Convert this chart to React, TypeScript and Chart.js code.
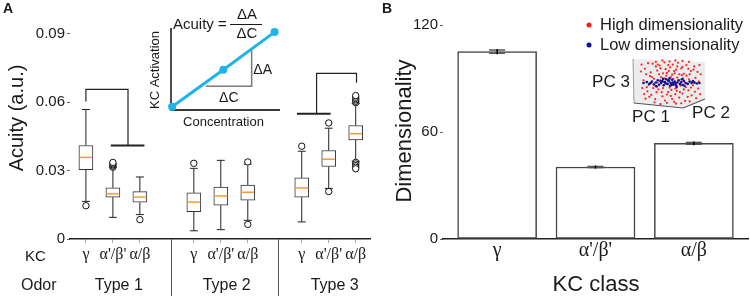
import React, { useEffect, useRef } from 'react';
import { Chart, registerables } from 'chart.js';

Chart.register(...registerables);

const SANS = '"Liberation Sans", Arial, sans-serif';
const SERIF = '"Liberation Serif", "Times New Roman", serif';
const INK = '#1a1a1a';

// ---------- Panel A: odor acuity per KC class ----------
const kcClasses = ['γ', "α'/β'", 'α/β'];
const odorTypes = ['Type 1', 'Type 2', 'Type 3'];
const boxPositions = [1, 2, 3, 5, 6, 7, 9, 10, 11];
const groupCenters = [2, 6, 10];
const groupDividers = [4.16, 8.12];
const whiskerLow = [0.0165, 0.0095, 0.0107, 0.0036, 0.0041, 0.0082, 0.0075, 0.0222, 0.0341];
const quartile1 = [0.0304, 0.0184, 0.0161, 0.012, 0.0148, 0.017, 0.0183, 0.0318, 0.0435];
const medians = [0.0358, 0.0198, 0.0184, 0.0162, 0.0189, 0.0205, 0.0224, 0.035, 0.0462];
const quartile3 = [0.041, 0.0224, 0.0208, 0.0202, 0.0228, 0.0237, 0.0268, 0.0388, 0.0498];
const whiskerHigh = [0.0568, 0.0313, 0.0272, 0.031, 0.0345, 0.0328, 0.0385, 0.0486, 0.0594];
const outliers = [
  [0.0146],
  [0.0315, 0.032, 0.0325, 0.033, 0.0336],
  [0.0085],
  [0.0332],
  [],
  [0.0338, 0.0064],
  [0.0407],
  [0.0509, 0.0208],
  [0.0598, 0.0604, 0.061, 0.0616, 0.0622, 0.0629, 0.0336, 0.0329, 0.0322, 0.0315, 0.0308],
];
const acuityTicks = [0, 0.03, 0.06, 0.09];
// significance brackets (data units)
const type1Bracket = [
  { x: 1, y: 0.0603 },
  { x: 1, y: 0.0656 },
  { x: 2.56, y: 0.0656 },
  { x: 2.56, y: 0.041 },
];
const type1Bar = [
  { x: 1.92, y: 0.041 },
  { x: 3.17, y: 0.041 },
];
const type3Bracket = [
  { x: 11.03, y: 0.0685 },
  { x: 11.03, y: 0.0726 },
  { x: 9.55, y: 0.0726 },
  { x: 9.55, y: 0.0549 },
];
const type3Bar = [
  { x: 8.82, y: 0.0549 },
  { x: 10.07, y: 0.0549 },
];

// ---------- Panel A inset: acuity definition ----------
const concentration = [0.1, 4.8, 9.5];
const activation = [0.4, 4.9, 9.5];
const slopeX = [3.2, 7.4, 7.4];
const slopeY = [2.9, 2.9, 7.3];

// ---------- Panel B: dimensionality per KC class ----------
const classPositions = [1, 2, 3];
const dimensionality = [105.2, 40.4, 53.7];
const dimensionalityErr = [0.9, 0.3, 0.5];
const dimTicks = [0, 60, 120];

// ---------- Panel B inset: PCA projections ----------
const highDimPoints = [
  [1.2, 8.1], [2.0, 6.5], [2.4, 9.2], [3.1, 7.7], [3.5, 8.8], [4.2, 9.5], [4.6, 7.2], [5.1, 8.4],
  [5.5, 9.0], [6.0, 7.9], [6.3, 9.4], [6.8, 8.2], [7.2, 7.0], [7.6, 8.9], [8.3, 7.6], [8.8, 8.6],
  [9.3, 7.4], [1.6, 3.2], [2.2, 2.4], [2.8, 1.5], [3.3, 3.6], [3.9, 2.1], [4.3, 1.2], [4.8, 3.0],
  [5.2, 2.2], [5.7, 0.9], [6.1, 3.3], [6.5, 1.8], [7.0, 2.7], [7.4, 1.1], [7.9, 3.4], [8.4, 2.3],
  [8.9, 3.1], [9.1, 1.7], [1.0, 5.6], [1.8, 4.6], [2.6, 5.9], [3.0, 4.2], [3.7, 6.3], [4.0, 3.9],
  [4.5, 6.6], [5.0, 4.0], [5.4, 6.8], [5.9, 3.8], [6.2, 6.2], [6.7, 4.4], [7.1, 6.0], [7.5, 4.1],
  [8.0, 5.8], [8.6, 4.5], [9.0, 6.1], [9.5, 5.3], [2.1, 7.3], [3.4, 6.9], [4.9, 7.6], [5.8, 7.1],
  [6.9, 6.7], [8.1, 6.9], [2.5, 3.9], [3.8, 3.0], [5.3, 3.5], [6.6, 3.0], [7.8, 2.0], [4.4, 8.0],
  [5.6, 5.9], [4.1, 5.2], [6.4, 5.5], [3.2, 5.1], [7.3, 5.2], [5.0, 9.7], [6.0, 0.5], [4.7, 4.7],
  [5.5, 4.6], [3.6, 8.2], [7.0, 8.5], [2.9, 8.6], [8.7, 7.9], [1.4, 6.9], [1.9, 2.0], [9.4, 3.8],
  [0.6, 7.5], [0.8, 3.9], [1.3, 1.6], [2.7, 0.8], [3.6, 0.4], [4.6, 0.7], [5.4, 1.5], [6.8, 0.6],
  [8.1, 1.0], [9.7, 2.6], [9.8, 6.9], [9.6, 8.9], [8.0, 9.6], [7.0, 9.8], [5.9, 9.9], [3.9, 9.9],
  [2.9, 9.6], [1.7, 9.3], [0.7, 9.0], [4.3, 6.0], [5.2, 6.3], [6.5, 6.9], [3.0, 3.0], [4.6, 2.5],
  [5.9, 2.6], [7.2, 3.6], [8.3, 4.0], [1.5, 4.1], [2.3, 6.3], [6.2, 8.6], [4.8, 8.9], [3.2, 9.0],
  [7.9, 8.1], [8.9, 5.1], [1.1, 2.6], [5.7, 7.6], [4.0, 7.1], [6.1, 4.0], [7.6, 6.6], [2.8, 4.4],
];
const lowDimPoints = [
  [1.0, 5.0], [1.5, 5.2], [1.9, 4.8], [2.3, 5.3], [2.6, 4.7], [2.9, 5.1], [3.2, 5.6], [3.4, 4.6],
  [3.7, 5.0], [3.9, 5.4], [4.1, 4.5], [4.3, 5.2], [4.5, 5.8], [4.7, 4.8], [4.9, 5.4], [5.1, 4.4],
  [5.2, 5.0], [5.4, 5.7], [5.6, 4.7], [5.8, 5.3], [6.0, 4.5], [6.2, 5.1], [6.4, 5.6], [6.6, 4.8],
  [6.8, 5.2], [7.0, 4.6], [7.2, 5.5], [7.5, 5.0], [7.8, 4.8], [8.1, 5.3], [8.4, 5.0], [8.8, 5.1],
  [9.2, 4.9], [9.6, 5.0], [3.0, 4.3], [4.0, 5.9], [5.0, 6.0], [6.1, 4.2], [5.5, 5.1], [4.4, 4.9],
  [6.9, 5.8], [3.6, 5.5], [5.9, 4.9], [4.8, 5.6], [5.3, 4.6], [7.3, 4.4], [2.1, 5.0], [8.6, 5.4],
];

function drawText(
  ctx: CanvasRenderingContext2D,
  str: string,
  x: number,
  y: number,
  font: string,
  align: CanvasTextAlign = 'center',
  rotate = 0,
  color = INK
) {
  ctx.save();
  ctx.translate(x, y);
  if (rotate) ctx.rotate(rotate);
  ctx.font = font;
  ctx.fillStyle = color;
  ctx.textAlign = align;
  ctx.textBaseline = 'middle';
  ctx.fillText(str, 0, 0);
  ctx.restore();
}

function line(ctx: CanvasRenderingContext2D, pts: number[][], color: string, width: number) {
  ctx.save();
  ctx.strokeStyle = color;
  ctx.lineWidth = width;
  ctx.beginPath();
  pts.forEach(([x, y], i) => (i ? ctx.lineTo(x, y) : ctx.moveTo(x, y)));
  ctx.stroke();
  ctx.restore();
}

function makeAcuityChart(canvas: HTMLCanvasElement) {
  const outlierPoints = outliers.flatMap((vals, i) => vals.map((y) => ({ x: boxPositions[i], y })));
  const boxExtras = {
    id: 'boxExtras',
    beforeDatasetsDraw(chart: any) {
      const { ctx } = chart;
      const xs = chart.scales.x;
      const ys = chart.scales.y;
      boxPositions.forEach((p, i) => {
        const x = xs.getPixelForValue(p);
        const hi = ys.getPixelForValue(whiskerHigh[i]);
        const lo = ys.getPixelForValue(whiskerLow[i]);
        line(ctx, [[x, ys.getPixelForValue(quartile3[i])], [x, hi]], '#222', 1);
        line(ctx, [[x, ys.getPixelForValue(quartile1[i])], [x, lo]], '#222', 1);
        line(ctx, [[x - 4, hi], [x + 4, hi]], '#222', 1);
        line(ctx, [[x - 4, lo], [x + 4, lo]], '#222', 1);
      });
    },
    afterDatasetsDraw(chart: any) {
      const { ctx } = chart;
      const xs = chart.scales.x;
      const ys = chart.scales.y;
      boxPositions.forEach((p, i) => {
        const x = xs.getPixelForValue(p);
        const m = ys.getPixelForValue(medians[i]);
        line(ctx, [[x - 6.5, m], [x + 6.5, m]], '#f39b3b', 1.5);
      });
    },
    afterDraw(chart: any) {
      const { ctx, chartArea } = chart;
      const xs = chart.scales.x;
      groupDividers.forEach((v) => {
        const x = Math.round(xs.getPixelForValue(v)) + 0.5;
        line(ctx, [[x, chartArea.bottom], [x, 296]], '#555', 1);
      });
      drawText(ctx, 'KC', 25, 257, `15px ${SANS}`, 'left');
      drawText(ctx, 'Odor', 21, 286, `16px ${SANS}`, 'left');
      odorTypes.forEach((t, i) => {
        drawText(ctx, t, xs.getPixelForValue(groupCenters[i] + 0.22), 286, `16px ${SANS}`);
      });
      drawText(ctx, 'Acuity (a.u.)', 17, 118, `20px ${SANS}`, 'center', -Math.PI / 2);
      drawText(ctx, 'A', 3, 9, `bold 14px ${SANS}`, 'left');
    },
  };
  return new Chart(canvas, {
    type: 'bar',
    data: {
      datasets: [
        {
          type: 'bar',
          data: boxPositions.map((x, i) => ({ x, y: [quartile1[i], quartile3[i]] })) as any,
          backgroundColor: '#ffffff',
          borderColor: '#333',
          borderWidth: 1,
          borderSkipped: false,
          barThickness: 14,
          order: 3,
        } as any,
        {
          type: 'scatter',
          data: outlierPoints,
          pointStyle: 'circle',
          pointRadius: 3.2,
          pointBackgroundColor: '#ffffff',
          pointBorderColor: '#111',
          pointBorderWidth: 1,
          order: 1,
        } as any,
        ...[type1Bracket, type3Bracket].map((d) => ({
          type: 'line',
          data: d,
          borderColor: '#222',
          borderWidth: 1.2,
          pointRadius: 0,
          fill: false,
          order: 2,
        })),
        ...[type1Bar, type3Bar].map((d) => ({
          type: 'line',
          data: d,
          borderColor: '#222',
          borderWidth: 2,
          pointRadius: 0,
          fill: false,
          order: 2,
        })),
      ] as any,
    },
    options: {
      responsive: false,
      animation: false,
      devicePixelRatio: 1,
      layout: { padding: { top: 11, right: 3, left: 0, bottom: 0 } },
      plugins: { legend: { display: false }, tooltip: { enabled: false } },
      scales: {
        x: {
          type: 'linear',
          offset: false,
          min: 0.41,
          max: 11.53,
          afterBuildTicks: (s: any) => {
            s.ticks = boxPositions.map((value) => ({ value }));
          },
          afterFit: (s: any) => {
            s.height = 60;
          },
          ticks: {
            autoSkip: false,
            maxRotation: 0,
            padding: 2,
            color: INK,
            font: { family: SERIF, size: 16 },
            callback: (v: any) => kcClasses[boxPositions.indexOf(Number(v)) % 3],
          },
          grid: { offset: false, drawOnChartArea: false, drawTicks: true, tickLength: 4, color: '#aaa' },
          border: { display: true, color: '#222', width: 1.5 },
        },
        y: {
          type: 'linear',
          min: 0,
          max: 0.1,
          afterBuildTicks: (s: any) => {
            s.ticks = acuityTicks.map((value) => ({ value }));
          },
          afterFit: (s: any) => {
            s.width = 70;
          },
          ticks: {
            padding: 2,
            color: INK,
            font: { family: SANS, size: 15 },
            callback: (v: any) => (Number(v) === 0 ? '0' : Number(v).toFixed(2)),
          },
          grid: { drawOnChartArea: false, drawTicks: true, tickLength: 3, color: '#666' },
          border: { display: false },
        },
      },
    } as any,
    plugins: [boxExtras],
  });
}

function makeInsetA(canvas: HTMLCanvasElement) {
  const decor = {
    id: 'insetDecor',
    beforeDatasetsDraw(chart: any) {
      const { ctx, chartArea: a } = chart;
      line(ctx, [[a.left, a.top], [a.left, a.bottom], [a.right, a.bottom]], '#3a3a3a', 1.8);
    },
    afterDraw(chart: any) {
      const { ctx, chartArea: a } = chart;
      const xs = chart.scales.x;
      const ys = chart.scales.y;
      drawText(ctx, 'KC Activation', a.left - 16, (a.top + a.bottom) / 2 + 1, `13px ${SANS}`, 'center', -Math.PI / 2);
      drawText(ctx, 'Concentration', (a.left + a.right) / 2 - 2, a.bottom + 12, `13px ${SANS}`);
      drawText(ctx, 'ΔA', xs.getPixelForValue(slopeX[1]) + 11, ys.getPixelForValue((slopeY[1] + slopeY[2]) / 2) + 2, `14px ${SANS}`);
      drawText(ctx, 'ΔC', xs.getPixelForValue((slopeX[0] + slopeX[1]) / 2), ys.getPixelForValue(slopeY[0]) + 12, `14px ${SANS}`);
      drawText(ctx, 'Acuity =', 33, 25, `15px ${SANS}`, 'left');
      drawText(ctx, 'ΔA', 107, 15, `15px ${SANS}`);
      drawText(ctx, 'ΔC', 107, 34, `15px ${SANS}`);
      line(ctx, [[90, 24.5], [122, 24.5]], INK, 1);
    },
  };
  return new Chart(canvas, {
    type: 'line',
    data: {
      datasets: [
        {
          data: concentration.map((x, i) => ({ x, y: activation[i] })),
          borderColor: '#1eb4ea',
          backgroundColor: '#1eb4ea',
          borderWidth: 3,
          pointRadius: 4,
          pointBackgroundColor: '#1eb4ea',
          pointBorderWidth: 0,
          clip: false,
          order: 0,
        },
        {
          data: slopeX.map((x, i) => ({ x, y: slopeY[i] })),
          borderColor: '#7a7a7a',
          borderWidth: 1.5,
          pointRadius: 0,
          clip: false,
          order: 1,
        },
      ] as any,
    },
    options: {
      responsive: false,
      animation: false,
      devicePixelRatio: 1,
      layout: { padding: { left: 31, right: 10, top: 28, bottom: 20 } },
      plugins: { legend: { display: false }, tooltip: { enabled: false } },
      scales: {
        x: { type: 'linear', min: 0, max: 10, display: false },
        y: { type: 'linear', min: 0, max: 10, display: false },
      },
    } as any,
    plugins: [decor],
  });
}

function makeDimChart(canvas: HTMLCanvasElement) {
  const extras = {
    id: 'dimExtras',
    afterDatasetsDraw(chart: any) {
      const { ctx } = chart;
      const xs = chart.scales.x;
      const ys = chart.scales.y;
      classPositions.forEach((p, i) => {
        const x = xs.getPixelForValue(p);
        const top = ys.getPixelForValue(dimensionality[i] + dimensionalityErr[i]);
        const bot = ys.getPixelForValue(dimensionality[i] - dimensionalityErr[i]);
        line(ctx, [[x - 8, top], [x + 8, top]], '#555', 1.5);
        line(ctx, [[x - 8, bot], [x + 8, bot]], '#555', 1.5);
        line(ctx, [[x, top - 1], [x, bot + 1]], '#000', 1.5);
      });
    },
    afterDraw(chart: any) {
      const { ctx } = chart;
      drawText(ctx, 'Dimensionality', 30, 131, `22px ${SANS}`, 'center', -Math.PI / 2);
      drawText(ctx, 'KC class', 221, 285, `22px ${SANS}`);
      drawText(ctx, 'B', 7, 9, `bold 14px ${SANS}`, 'left');
    },
  };
  return new Chart(canvas, {
    type: 'bar',
    data: {
      datasets: [
        {
          data: classPositions.map((x, i) => ({ x, y: dimensionality[i] })),
          backgroundColor: '#ffffff',
          borderColor: '#444',
          borderWidth: 1.5,
          borderSkipped: false,
          barThickness: 79,
        },
      ] as any,
    },
    options: {
      responsive: false,
      animation: false,
      devicePixelRatio: 1,
      layout: { padding: { top: 11, right: 2, left: 0, bottom: 0 } },
      plugins: { legend: { display: false }, tooltip: { enabled: false } },
      scales: {
        x: {
          type: 'linear',
          offset: false,
          min: 0.45,
          max: 3.55,
          afterBuildTicks: (s: any) => {
            s.ticks = classPositions.map((value) => ({ value }));
          },
          afterFit: (s: any) => {
            s.height = 60;
          },
          ticks: {
            autoSkip: false,
            maxRotation: 0,
            padding: 0,
            color: INK,
            font: { family: SERIF, size: 20 },
            callback: (v: any) => kcClasses[classPositions.indexOf(Number(v))],
          },
          grid: { display: false, drawTicks: false, offset: false },
          border: { display: true, color: '#222', width: 1.5 },
        },
        y: {
          type: 'linear',
          min: 0,
          max: 128,
          afterBuildTicks: (s: any) => {
            s.ticks = dimTicks.map((value) => ({ value }));
          },
          afterFit: (s: any) => {
            s.width = 68;
          },
          ticks: { padding: 2, color: INK, font: { family: SANS, size: 15 } },
          grid: { drawOnChartArea: false, drawTicks: true, tickLength: 3, color: '#666' },
          border: { display: false },
        },
      },
    } as any,
    plugins: [extras],
  });
}

function makePcaInset(canvas: HTMLCanvasElement) {
  const decor = {
    id: 'pcaDecor',
    beforeDatasetsDraw(chart: any) {
      const { ctx, chartArea: a } = chart;
      const L = a.left, R = a.right, T = a.top, B = a.bottom;
      ctx.save();
      ctx.fillStyle = '#ececec';
      ctx.beginPath();
      ctx.moveTo(L - 4, T - 1);
      ctx.lineTo(R + 3, T + 2);
      ctx.lineTo(R + 3, B - 7);
      ctx.lineTo(R - 19, B + 2);
      ctx.lineTo(L - 3, B - 3);
      ctx.closePath();
      ctx.fill();
      ctx.restore();
      line(ctx, [[L - 4, T - 1], [L - 3, B - 3]], '#9a9a9a', 1);
      line(ctx, [[L - 3, B - 3], [R - 19, B + 2], [R + 3, B - 7]], '#555', 1.2);
    },
    afterDraw(chart: any) {
      const { ctx } = chart;
      ctx.save();
      ctx.fillStyle = '#ff1a1a';
      ctx.beginPath();
      ctx.arc(4, 15, 2.5, 0, Math.PI * 2);
      ctx.fill();
      ctx.fillStyle = '#101090';
      ctx.beginPath();
      ctx.arc(4, 35, 2.5, 0, Math.PI * 2);
      ctx.fill();
      ctx.restore();
      drawText(ctx, 'High dimensionality', 15, 15, `16.5px ${SANS}`, 'left');
      drawText(ctx, 'Low dimensionality', 15, 35, `16.5px ${SANS}`, 'left');
      drawText(ctx, 'PC 3', 26, 72, `17px ${SANS}`);
      drawText(ctx, 'PC 1', 66, 107, `17px ${SANS}`);
      drawText(ctx, 'PC 2', 126, 103, `17px ${SANS}`);
    },
  };
  return new Chart(canvas, {
    type: 'scatter',
    data: {
      datasets: [
        {
          data: lowDimPoints.map(([x, y]) => ({ x, y })),
          pointRadius: 1.3,
          pointBorderWidth: 0,
          pointBackgroundColor: '#101090',
          clip: false,
          order: 0,
        },
        {
          data: highDimPoints.map(([x, y]) => ({ x, y })),
          pointRadius: 1.1,
          pointBorderWidth: 0,
          pointBackgroundColor: '#ff2020',
          clip: false,
          order: 1,
        },
      ] as any,
    },
    options: {
      responsive: false,
      animation: false,
      devicePixelRatio: 1,
      layout: { padding: { left: 52, right: 48, top: 50, bottom: 24 } },
      plugins: { legend: { display: false }, tooltip: { enabled: false } },
      scales: {
        x: { type: 'linear', min: 0, max: 10, display: false },
        y: { type: 'linear', min: 0, max: 10, display: false },
      },
    } as any,
    plugins: [decor],
  });
}

const canvasStyle = (left: number, top: number, width: number, height: number): React.CSSProperties => ({
  position: 'absolute',
  left,
  top,
  width,
  height,
  display: 'block',
});

export default function App() {
  const acuityRef = useRef<HTMLCanvasElement>(null);
  const insetRef = useRef<HTMLCanvasElement>(null);
  const dimRef = useRef<HTMLCanvasElement>(null);
  const pcaRef = useRef<HTMLCanvasElement>(null);

  useEffect(() => {
    const charts = [
      makeAcuityChart(acuityRef.current!),
      makeInsetA(insetRef.current!),
      makeDimChart(dimRef.current!),
      makePcaInset(pcaRef.current!),
    ];
    return () => charts.forEach((c) => c.destroy());
  }, []);

  return (
    <div
      style={{
        position: 'absolute',
        left: 0,
        top: 0,
        width: 750,
        height: 299,
        background: '#ffffff',
        overflow: 'hidden',
      }}
    >
      <canvas ref={acuityRef} width={375} height={299} style={canvasStyle(0, 0, 375, 299)} />
      <canvas ref={insetRef} width={150} height={130} style={canvasStyle(140, 0, 150, 130)} />
      <canvas ref={dimRef} width={375} height={299} style={canvasStyle(375, 0, 375, 299)} />
      <canvas ref={pcaRef} width={165} height={120} style={canvasStyle(585, 10, 165, 120)} />
    </div>
  );
}
